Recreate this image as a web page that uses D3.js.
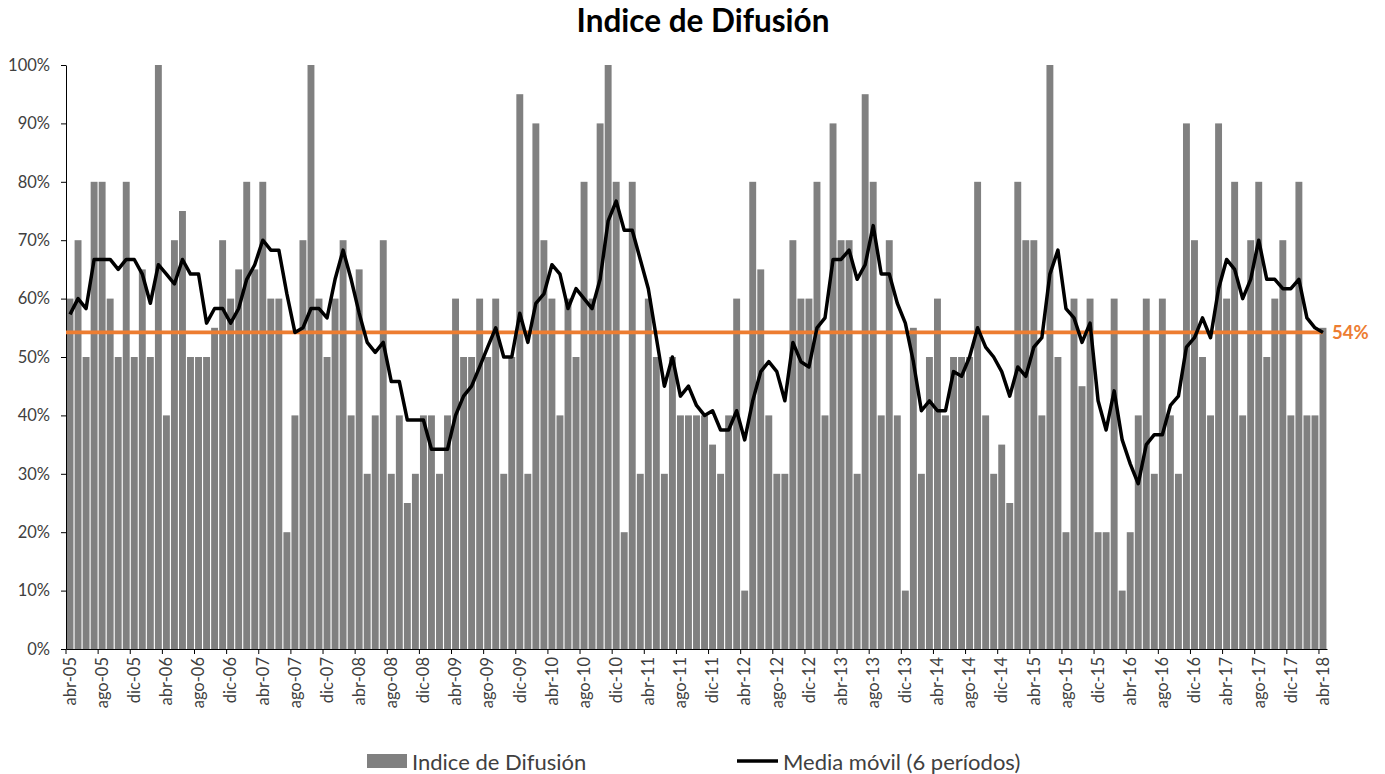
<!DOCTYPE html>
<html><head><meta charset="utf-8">
<script src="https://cdn.jsdelivr.net/npm/d3@7"></script>
<style>body{margin:0;background:#fff} svg{display:block}</style>
</head><body><svg id="chart" width="1385" height="774"></svg>
<script>
const categories = [
"abr-05","may-05","jun-05","jul-05","ago-05","sep-05","oct-05","nov-05","dic-05",
"ene-06","feb-06","mar-06","abr-06","may-06","jun-06","jul-06","ago-06","sep-06","oct-06","nov-06","dic-06",
"ene-07","feb-07","mar-07","abr-07","may-07","jun-07","jul-07","ago-07","sep-07","oct-07","nov-07","dic-07",
"ene-08","feb-08","mar-08","abr-08","may-08","jun-08","jul-08","ago-08","sep-08","oct-08","nov-08","dic-08",
"ene-09","feb-09","mar-09","abr-09","may-09","jun-09","jul-09","ago-09","sep-09","oct-09","nov-09","dic-09",
"ene-10","feb-10","mar-10","abr-10","may-10","jun-10","jul-10","ago-10","sep-10","oct-10","nov-10","dic-10",
"ene-11","feb-11","mar-11","abr-11","may-11","jun-11","jul-11","ago-11","sep-11","oct-11","nov-11","dic-11",
"ene-12","feb-12","mar-12","abr-12","may-12","jun-12","jul-12","ago-12","sep-12","oct-12","nov-12","dic-12",
"ene-13","feb-13","mar-13","abr-13","may-13","jun-13","jul-13","ago-13","sep-13","oct-13","nov-13","dic-13",
"ene-14","feb-14","mar-14","abr-14","may-14","jun-14","jul-14","ago-14","sep-14","oct-14","nov-14","dic-14",
"ene-15","feb-15","mar-15","abr-15","may-15","jun-15","jul-15","ago-15","sep-15","oct-15","nov-15","dic-15",
"ene-16","feb-16","mar-16","abr-16","may-16","jun-16","jul-16","ago-16","sep-16","oct-16","nov-16","dic-16",
"ene-17","feb-17","mar-17","abr-17","may-17","jun-17","jul-17","ago-17","sep-17","oct-17","nov-17","dic-17",
"ene-18","feb-18","mar-18","abr-18"];

// Indice de Difusión (%)
const indice = [
60,70,50,80,80,60,50,80,50,
65,50,100,40,70,75,50,50,50,55,70,60,
65,80,65,80,60,60,20,40,70,100,60,50,
60,70,40,65,30,40,70,30,40,25,30,40,
40,30,40,60,50,50,60,50,60,30,50,95,
30,90,70,60,40,60,50,80,60,90,100,80,
20,80,30,60,50,30,50,40,40,40,40,35,
30,40,60,10,80,65,40,30,30,70,60,60,
80,40,90,70,70,30,95,80,40,70,40,10,
55,30,50,60,40,50,50,50,80,40,30,35,
25,80,70,70,40,100,50,20,60,45,60,20,
20,60,10,20,40,60,30,60,40,30,90,70,
50,40,90,60,80,40,70,80,50,60,70,40,
80,40,40,55];

// Media móvil (6 períodos) (%)
const mediaMovil = [
57.3,60.0,58.3,66.7,66.7,66.7,65.0,66.7,66.7,
64.2,59.2,65.8,64.2,62.5,66.7,64.2,64.2,55.8,58.3,58.3,55.8,
58.3,63.3,65.8,70.0,68.3,68.3,60.8,54.2,55.0,58.3,58.3,56.7,
63.3,68.3,63.3,57.5,52.5,50.8,52.5,45.8,45.8,39.2,39.2,39.2,
34.2,34.2,34.2,40.0,43.3,45.0,48.3,51.7,55.0,50.0,50.0,57.5,
52.5,59.2,60.8,65.8,64.2,58.3,61.7,60.0,58.3,63.3,73.3,76.7,
71.7,71.7,66.7,61.7,53.3,45.0,50.0,43.3,45.0,41.7,40.0,40.8,
37.5,37.5,40.8,35.8,42.5,47.5,49.2,47.5,42.5,52.5,49.2,48.3,
55.0,56.7,66.7,66.7,68.3,63.3,65.8,72.5,64.2,64.2,59.2,55.8,
49.2,40.8,42.5,40.8,40.8,47.5,46.7,50.0,55.0,51.7,50.0,47.5,
43.3,48.3,46.7,51.7,53.3,64.2,68.3,58.3,56.7,52.5,55.8,42.5,
37.5,44.2,35.8,31.7,28.3,35.0,36.7,36.7,41.7,43.3,51.7,53.3,
56.7,53.3,61.7,66.7,65.0,60.0,63.3,70.0,63.3,63.3,61.7,61.7,
63.3,56.7,55.0,54.2];

const tickLabels = [
"abr-05","ago-05","dic-05","abr-06","ago-06","dic-06","abr-07","ago-07","dic-07",
"abr-08","ago-08","dic-08","abr-09","ago-09","dic-09","abr-10","ago-10","dic-10",
"abr-11","ago-11","dic-11","abr-12","ago-12","dic-12","abr-13","ago-13","dic-13",
"abr-14","ago-14","dic-14","abr-15","ago-15","dic-15","abr-16","ago-16","dic-16",
"abr-17","ago-17","dic-17","abr-18"];

const yTicks = [0,10,20,30,40,50,60,70,80,90,100];
const refValue = 54.2;
const chartTitle = "Indice de Difusión";
const seriesNames = ["Indice de Difusión", "Media móvil (6 períodos)"];

const W = 1385, H = 774;
const plot = {left: 66, right: 1327, top: 65, bottom: 649};
const FONT = "Lato, 'Open Sans', sans-serif";
const TXT = "#404040";
const BAR = "#808080";
const ORANGE = "#ED7D31";

const svg = d3.select("#chart");
svg.append("rect").attr("width", W).attr("height", H).attr("fill", "#fff");

const x = d3.scaleBand().domain(categories).range([plot.left, plot.right])
  .paddingInner(0.14).paddingOuter(0.07);
const y = d3.scaleLinear().domain([0, 100]).range([plot.bottom, plot.top]);

// bars
svg.append("g").selectAll("rect").data(indice).join("rect")
  .attr("x", (d, i) => x(categories[i]))
  .attr("width", x.bandwidth())
  .attr("y", d => y(d))
  .attr("height", d => y(0) - y(d))
  .attr("fill", BAR);

// y axis
const yAxis = svg.append("g").attr("transform", `translate(${plot.left},0)`)
  .call(d3.axisLeft(y).tickValues(yTicks).tickFormat(d => d + "%").tickSize(5).tickSizeOuter(0).tickPadding(11));
yAxis.select(".domain").attr("stroke", "#000");
yAxis.selectAll(".tick line").attr("stroke", "#000");
yAxis.selectAll("text").attr("font-family", FONT).attr("font-size", 16.5).attr("fill", TXT);

// x axis
const half = x.step() / 2;
const xAxis = svg.append("g").attr("transform", `translate(0,${plot.bottom})`)
  .call(d3.axisBottom(x).tickValues(tickLabels).tickSize(5).tickSizeOuter(0));
xAxis.select(".domain").attr("stroke", "#000");
xAxis.selectAll(".tick line").attr("stroke", "#000").attr("x1", -half).attr("x2", -half);
xAxis.selectAll("text")
  .attr("font-family", FONT).attr("font-size", 16.5).attr("fill", TXT)
  .attr("transform", "rotate(-90)")
  .attr("text-anchor", "end")
  .attr("x", -8).attr("y", 0).attr("dy", "0.35em");

// reference line
const lastX = x(categories[categories.length - 1]) + x.bandwidth() / 2;
svg.append("line")
  .attr("x1", plot.left).attr("x2", lastX)
  .attr("y1", y(refValue)).attr("y2", y(refValue))
  .attr("stroke", ORANGE).attr("stroke-width", 3.8);
svg.append("text")
  .attr("x", lastX + 9).attr("y", y(refValue))
  .attr("dominant-baseline", "central")
  .attr("font-family", FONT).attr("font-weight", "bold").attr("font-size", 18.5)
  .attr("fill", ORANGE)
  .text(d3.format(".0f")(refValue) + "%");

// moving average
const line = d3.line()
  .x((d, i) => x(categories[i]) + x.bandwidth() / 2)
  .y(d => y(d));
svg.append("path").datum(mediaMovil)
  .attr("d", line).attr("fill", "none")
  .attr("stroke", "#000").attr("stroke-width", 3.5).attr("stroke-linejoin", "round");

// title
svg.append("text").attr("x", 703).attr("y", 32)
  .attr("text-anchor", "middle")
  .attr("font-family", FONT).attr("font-weight", "bold").attr("font-size", 31.5)
  .attr("fill", "#000").text(chartTitle);

// legend
const lg = svg.append("g");
lg.append("rect").attr("x", 367).attr("y", 754).attr("width", 40).attr("height", 14).attr("fill", BAR);
lg.append("text").attr("x", 412).attr("y", 761).attr("dominant-baseline", "central")
  .attr("font-family", FONT).attr("font-size", 22).attr("fill", TXT).text(seriesNames[0]);
lg.append("line").attr("x1", 737).attr("x2", 778).attr("y1", 761).attr("y2", 761)
  .attr("stroke", "#000").attr("stroke-width", 3.5);
lg.append("text").attr("x", 783).attr("y", 761).attr("dominant-baseline", "central")
  .attr("font-family", FONT).attr("font-size", 22).attr("fill", TXT).text(seriesNames[1]);
</script>
</body></html>
